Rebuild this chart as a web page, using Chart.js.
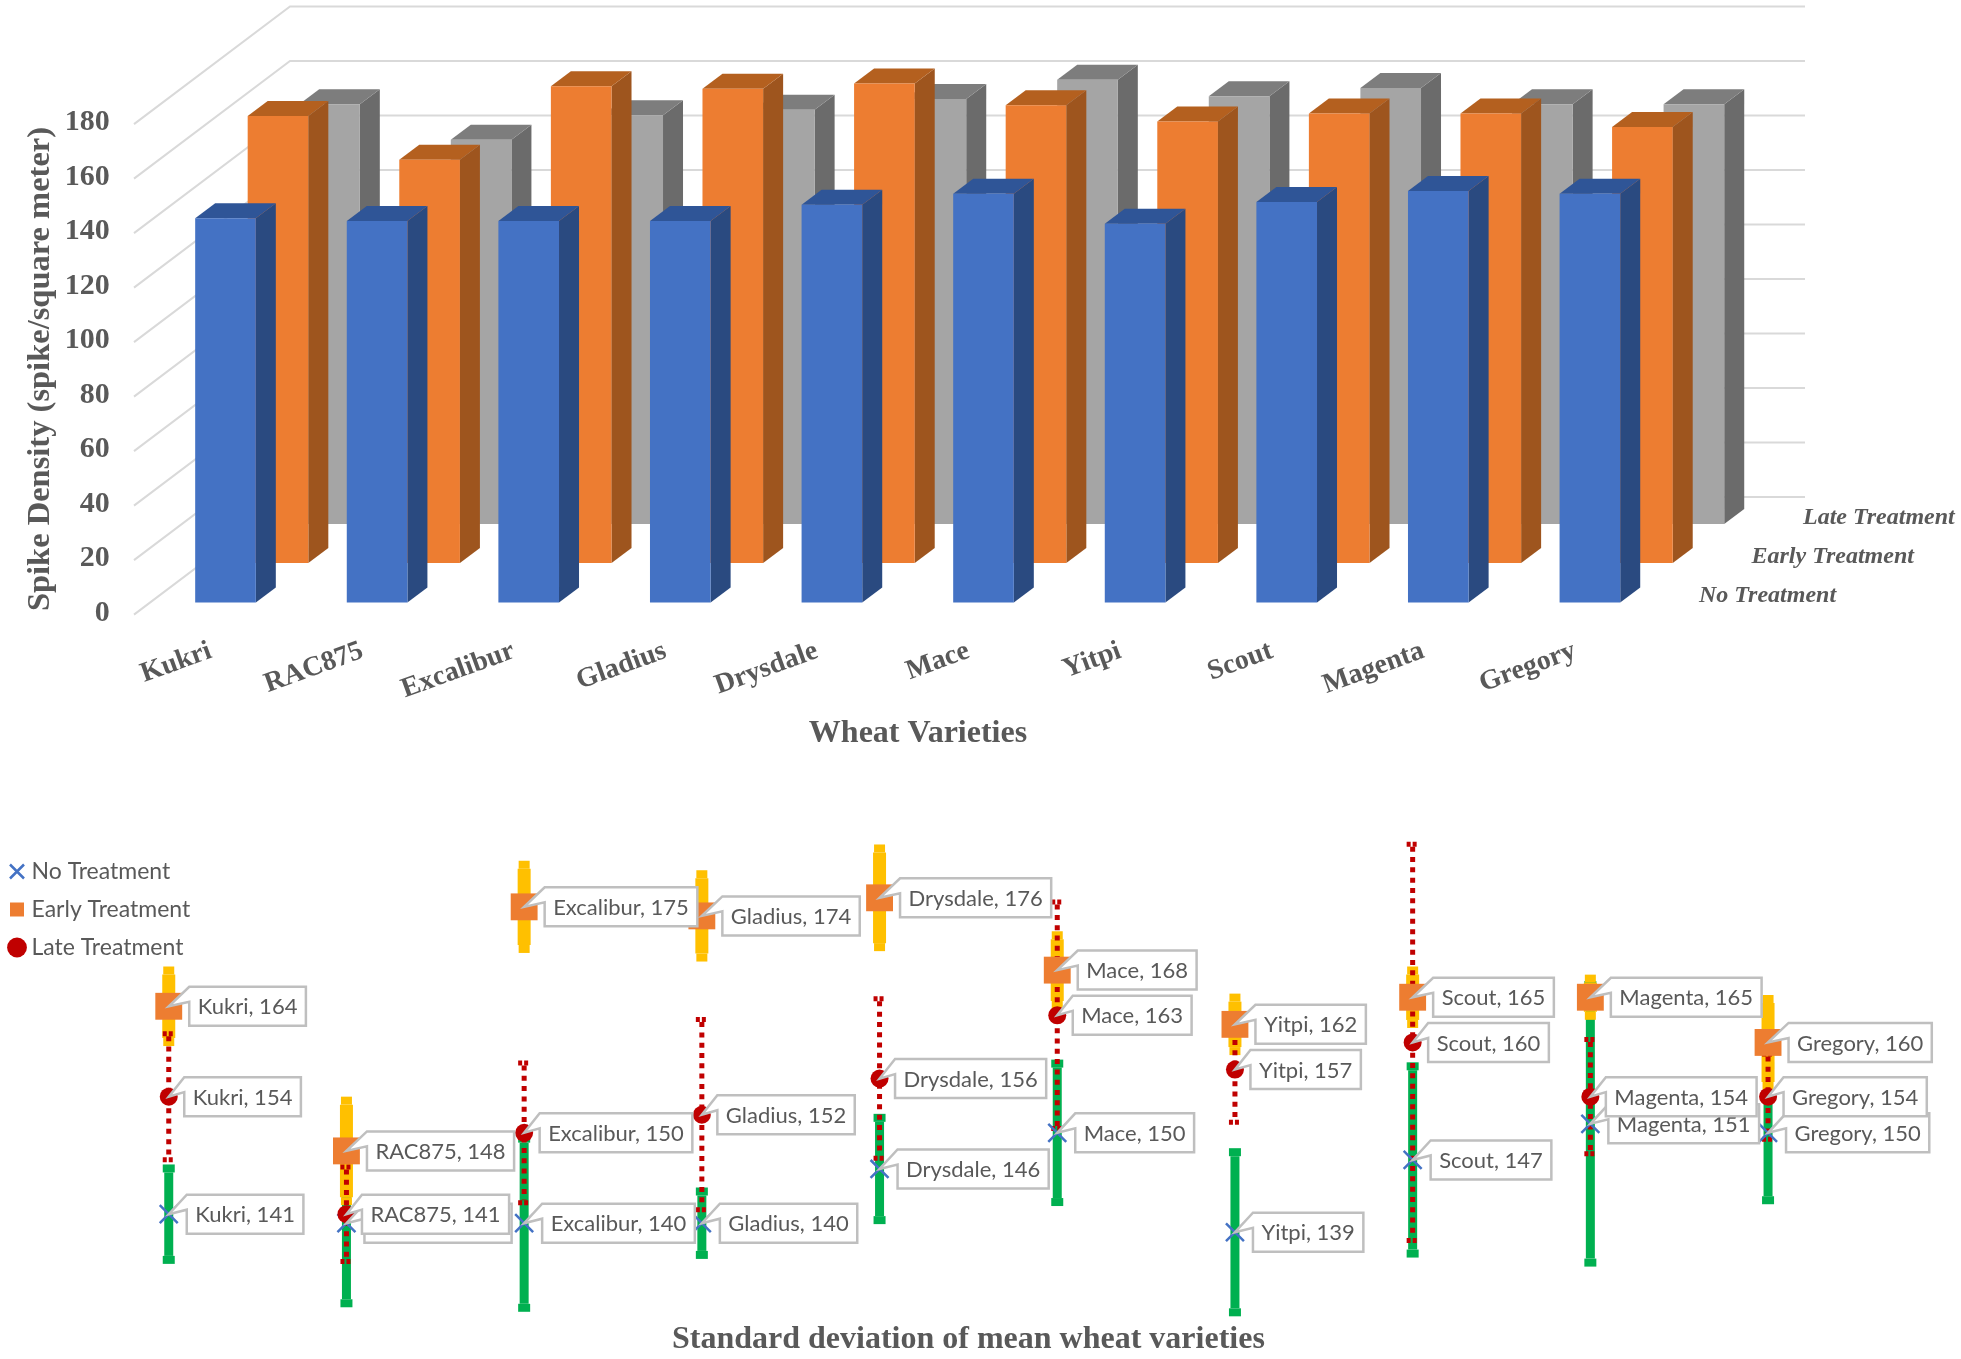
<!DOCTYPE html>
<html>
<head>
<meta charset="utf-8">
<title>Spike density of wheat varieties</title>
<script src="https://cdn.jsdelivr.net/npm/chart.js@4.4.0/dist/chart.umd.js"></script>
<style>
  html, body { margin: 0; padding: 0; background: #fff; }
  #page { position: relative; width: 1961px; height: 1359px; overflow: hidden; }
  canvas { position: absolute; left: 0; }
  #barChart { top: 0; }
  #sdChart { top: 780px; }
</style>
</head>
<body>
<div id="page">
  <canvas id="barChart" width="1961" height="780"></canvas>
  <canvas id="sdChart" width="1961" height="579"></canvas>
</div>
<script>
const varieties = ['Kukri', 'RAC875', 'Excalibur', 'Gladius', 'Drysdale', 'Mace', 'Yitpi', 'Scout', 'Magenta', 'Gregory'];
const noTreatment = [141, 140, 140, 140, 146, 150, 139, 147, 151, 150];
const earlyTreatment = [164, 148, 175, 174, 176, 168, 162, 165, 165, 160];
const lateTreatment = [154, 141, 150, 152, 156, 163, 157, 160, 154, 154];
const noTreatmentSd = [5.5, 9.3, 9.8, 3.95, 6.1, 8.1, 9.3, 10.8, 15.8, 7.9];
const earlyTreatmentSd = [4.4, 6, 5.1, 5.05, 5.9, 4.3, 3.4, 3.4, 2.5, 5.25];
const lateTreatmentSd = [7.25, 5.5, 8, 10.8, 9.1, 12.8, 6.1, 22.2, 6.6, 5];
const densityTicks = [0, 20, 40, 60, 80, 100, 120, 140, 160, 180];

const TEXT = '#595959';
const SERIF = '"Liberation Serif", serif';
const SANS = 'Lato, "Open Sans", sans-serif';

// how far back each series stands, and the shades of its faces
const planes = [
  { dx: 0, dy: 0, side: '#2A4A80', top: '#2F5597' },
  { dx: 52.5, dy: -39.5, side: '#9E551E', top: '#B4601F' },
  { dx: 104, dy: -78.5, side: '#6B6B6B', top: '#7D7D7D' },
];
const BAR_DEPTH = { x: 20, y: 15 };

const bars3d = {
  id: 'bars3d',
  beforeDatasetDraw(chart, args) {
    const plane = planes[args.index];
    const ctx = chart.ctx;
    ctx.save();
    ctx.translate(plane.dx, plane.dy);
    args.meta.data.forEach(bar => {
      const left = bar.x - bar.width / 2;
      const right = bar.x + bar.width / 2;
      ctx.fillStyle = plane.side;
      ctx.beginPath();
      ctx.moveTo(right, bar.y);
      ctx.lineTo(right + BAR_DEPTH.x, bar.y - BAR_DEPTH.y);
      ctx.lineTo(right + BAR_DEPTH.x, bar.base - BAR_DEPTH.y);
      ctx.lineTo(right, bar.base);
      ctx.closePath();
      ctx.fill();
      ctx.fillStyle = plane.top;
      ctx.beginPath();
      ctx.moveTo(left, bar.y);
      ctx.lineTo(left + BAR_DEPTH.x, bar.y - BAR_DEPTH.y);
      ctx.lineTo(right + BAR_DEPTH.x, bar.y - BAR_DEPTH.y);
      ctx.lineTo(right, bar.y);
      ctx.closePath();
      ctx.fill();
    });
  },
  afterDatasetDraw(chart) {
    chart.ctx.restore();
  },
};

// back wall and left floor lines of the 3D box
const wallGrid = {
  id: 'wallGrid',
  beforeDatasetsDraw(chart) {
    const ctx = chart.ctx;
    const y = chart.scales.y;
    const wallLeft = 290, wallRight = 1805, wallDy = -105.5;
    ctx.save();
    ctx.strokeStyle = '#D9D9D9';
    ctx.lineWidth = 2;
    densityTicks.forEach(v => {
      const py = y.getPixelForValue(v) + wallDy;
      ctx.beginPath();
      ctx.moveTo(134, py + 117.6);
      ctx.lineTo(wallLeft, py);
      ctx.lineTo(wallRight, py);
      ctx.stroke();
    });
    ctx.restore();
  },
};

const captions = {
  id: 'captions',
  afterDraw(chart) {
    const ctx = chart.ctx;
    ctx.save();
    ctx.fillStyle = TEXT;
    ctx.textBaseline = 'middle';

    ctx.font = 'italic bold 24px ' + SERIF;
    ctx.textAlign = 'left';
    chart.data.datasets.forEach((ds, i) => {
      ctx.fillText(ds.label, 1699 + planes[i].dx, 596 + planes[i].dy);
    });

    ctx.font = 'bold 32px ' + SERIF;
    ctx.textAlign = 'center';
    ctx.fillText('Wheat Varieties', 918, 734);

    ctx.translate(41, 369);
    ctx.rotate(-Math.PI / 2);
    ctx.font = 'bold 32.5px ' + SERIF;
    ctx.fillText('Spike Density (spike/square meter)', 0, 0);
    ctx.restore();
  },
};

new Chart(document.getElementById('barChart').getContext('2d'), {
  type: 'bar',
  data: {
    labels: varieties,
    datasets: [
      { label: 'No Treatment', data: noTreatment, backgroundColor: '#4472C4', clip: false },
      { label: 'Early Treatment', data: earlyTreatment, backgroundColor: '#ED7D31', clip: false },
      { label: 'Late Treatment', data: lateTreatment, backgroundColor: '#A5A5A5', clip: false },
    ],
  },
  options: {
    responsive: false,
    animation: false,
    grouped: false,
    categoryPercentage: 1,
    barPercentage: 0.4,
    layout: { padding: { top: 112, right: 295.3, left: 0, bottom: 0 } },
    plugins: { legend: { display: false }, tooltip: { enabled: false } },
    scales: {
      x: {
        grid: { display: false },
        border: { display: false },
        afterFit: scale => { scale.height = 177.5; },
        ticks: {
          autoSkip: false,
          minRotation: 20,
          maxRotation: 20,
          padding: 24,
          labelOffset: -15,
          color: TEXT,
          font: { family: SERIF, size: 28, weight: 'bold' },
        },
      },
      y: {
        min: 0,
        max: 180,
        grid: { display: false, drawTicks: false },
        border: { display: false },
        afterFit: scale => { scale.width = 149.7; },
        afterBuildTicks: scale => { scale.ticks = densityTicks.map(value => ({ value })); },
        ticks: {
          padding: 40,
          labelOffset: 10.5,
          color: TEXT,
          font: { family: SERIF, size: 30, weight: 'bold' },
        },
      },
    },
  },
  plugins: [wallGrid, bars3d, captions],
});

// error bars, green under yellow under the red dotted one
const sdStyles = [
  { color: '#00B050', line: 9, capW: 12, capH: 8 },
  { color: '#FFC000', line: 13, capW: 11, capH: 8 },
  { color: '#C00000', line: 5, capW: 12, capH: 5, dash: [5, 5.3] },
];

const errorBars = {
  id: 'errorBars',
  beforeDatasetsDraw(chart) {
    const ctx = chart.ctx;
    const y = chart.scales.y;
    chart.data.datasets.forEach((ds, i) => {
      const style = sdStyles[i];
      chart.getDatasetMeta(i).data.forEach((pt, k) => {
        const hi = y.getPixelForValue(ds.data[k] + ds.sd[k]);
        const lo = y.getPixelForValue(ds.data[k] - ds.sd[k]);
        ctx.save();
        ctx.strokeStyle = style.color;
        ctx.fillStyle = style.color;
        ctx.lineWidth = style.line;
        if (style.dash) ctx.setLineDash(style.dash);
        ctx.beginPath();
        ctx.moveTo(pt.x, hi + style.capH);
        ctx.lineTo(pt.x, lo - style.capH);
        ctx.stroke();
        ctx.setLineDash(style.dash ? [4, 2] : []);
        ctx.lineWidth = style.capH;
        [hi + style.capH / 2, lo - style.capH / 2].forEach(cy => {
          ctx.beginPath();
          ctx.moveTo(pt.x - style.capW / 2, cy);
          ctx.lineTo(pt.x + style.capW / 2, cy);
          ctx.stroke();
        });
        ctx.restore();
      });
    });
  },
};

const calloutGaps = [18, 20.5, 15.5];
const callouts = {
  id: 'callouts',
  afterDatasetsDraw(chart) {
    const ctx = chart.ctx;
    ctx.save();
    ctx.font = '22px ' + SANS;
    ctx.textBaseline = 'middle';
    ctx.textAlign = 'left';
    chart.data.datasets.forEach((ds, i) => {
      chart.getDatasetMeta(i).data.forEach((pt, k) => {
        const text = varieties[k] + ', ' + ds.data[k];
        const w = ctx.measureText(text).width + 17;
        const h = 39;
        const left = pt.x + calloutGaps[i];
        const top = pt.y - h / 2;
        ctx.beginPath();
        ctx.moveTo(left, top);
        ctx.lineTo(left + w, top);
        ctx.lineTo(left + w, top + h);
        ctx.lineTo(left, top + h);
        ctx.lineTo(left, top + 15);
        ctx.lineTo(pt.x, pt.y);
        ctx.closePath();
        ctx.fillStyle = '#fff';
        ctx.fill();
        ctx.strokeStyle = '#BFBFBF';
        ctx.lineWidth = 2.5;
        ctx.stroke();
        ctx.fillStyle = TEXT;
        ctx.fillText(text, left + 8.5, pt.y + 1);
      });
    });
    ctx.restore();
  },
};

const legendSpot = {
  id: 'legendSpot',
  afterLayout(chart) {
    chart.legend.left = -1;
    chart.legend.top = 65;
  },
};

new Chart(document.getElementById('sdChart').getContext('2d'), {
  type: 'line',
  data: {
    labels: varieties,
    datasets: [
      {
        label: 'No Treatment', data: noTreatment, sd: noTreatmentSd, order: 2, showLine: false, clip: false,
        pointStyle: 'crossRot', pointRadius: 12.7, pointBorderWidth: 2.5,
        borderColor: '#4472C4', backgroundColor: '#4472C4', pointBorderColor: '#4472C4',
      },
      {
        label: 'Early Treatment', data: earlyTreatment, sd: earlyTreatmentSd, order: 1, showLine: false, clip: false,
        pointStyle: 'rect', pointRadius: 19, pointBorderWidth: 0,
        borderColor: '#ED7D31', backgroundColor: '#ED7D31', pointBackgroundColor: '#ED7D31',
      },
      {
        label: 'Late Treatment', data: lateTreatment, sd: lateTreatmentSd, order: 0, showLine: false, clip: false,
        pointStyle: 'circle', pointRadius: 9, pointBorderWidth: 0,
        borderColor: '#C00000', backgroundColor: '#C00000', pointBackgroundColor: '#C00000',
      },
    ],
  },
  options: {
    responsive: false,
    animation: false,
    layout: { padding: { top: 45.5, left: 79.9, right: 104.1, bottom: 0 } },
    plugins: {
      tooltip: { enabled: false },
      legend: {
        position: 'chartArea',
        align: 'start',
        labels: {
          usePointStyle: true,
          boxWidth: 6,
          boxHeight: 14,
          padding: 15,
          color: TEXT,
          sort: (a, b) => a.datasetIndex - b.datasetIndex,
          font: { family: SANS, size: 23 },
        },
      },
    },
    scales: {
      x: {
        offset: true,
        grid: { display: false },
        border: { display: false },
        ticks: { display: false },
        afterFit: scale => { scale.height = 45.4; },
        title: {
          display: true,
          text: 'Standard deviation of mean wheat varieties',
          color: TEXT,
          padding: { top: 0, bottom: 0 },
          font: { family: SERIF, size: 32, weight: 'bold' },
        },
      },
      y: { display: false, min: 130, max: 184 },
    },
  },
  plugins: [errorBars, callouts, legendSpot],
});
</script>
</body>
</html>
